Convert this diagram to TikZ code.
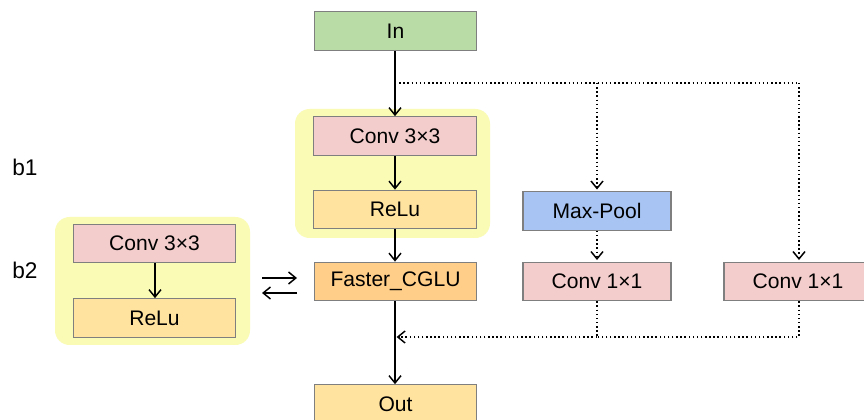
\documentclass[tikz,border=0pt]{standalone}
\usepackage{fontspec}
\setmainfont{Liberation Sans}
\usetikzlibrary{arrows.meta}
\definecolor{cgreen}{HTML}{B9DBA6}
\definecolor{cpink}{HTML}{F3CDCC}
\definecolor{crelu}{HTML}{FFE39E}
\definecolor{cfast}{HTML}{FFCF8A}
\definecolor{cblue}{HTML}{A7C4F2}
\definecolor{cgroup}{HTML}{FAFBB5}
\definecolor{cborder}{HTML}{7F7F7F}
\tikzset{
  box/.style={draw=cborder, line width=0.8pt, inner sep=0pt, font=\fontsize{15.8}{18}\selectfont},
  wbox/.style={box, minimum width=122pt, minimum height=29pt},
  sbox/.style={box, minimum width=111pt, minimum height=29pt},
  grp/.style={fill=cgroup, rounded corners=11pt},
  arr/.style={line width=1.1pt, -{Straight Barb[length=5.5pt,width=9pt,line width=1.1pt]}},
  dotarr/.style={line width=1.1pt, dotted, -{Straight Barb[length=5.5pt,width=9pt,line width=1.1pt,sep]}},
  dotline/.style={line width=1.1pt, dotted},
  lbl/.style={font=\fontsize{17}{20}\selectfont}
}
\begin{document}
\begin{tikzpicture}[x=0.75pt,y=-0.75pt]
\useasboundingbox (0,0) rectangle (864,420);
\clip (0,0) rectangle (864,420);
\fill[white] (0,0) rectangle (864,420);
% groups
\path[grp] (295,109) rectangle (490,238);
\path[grp] (55,217) rectangle (250,345);
% main column
\node[wbox, fill=cgreen] (in) at (395.5,31) {In};
\node[wbox, fill=cpink] (conv1) at (395,136) {Conv 3×3};
\node[wbox, fill=crelu] (relu1) at (395,209.5) {ReLu};
\node[wbox, fill=cfast] (fast) at (395.5,281.5) {Faster\_CGLU};
\node[wbox, fill=crelu] (out) at (395.5,404) {Out};
% branches
\node[sbox, fill=cblue] (pool) at (597,211) {Max-Pool};
\node[sbox, fill=cpink] (c11a) at (597,281.5) {Conv 1×1};
\node[sbox, fill=cpink] (c11b) at (798,281.5) {Conv 1×1};
% left block
\node[wbox, fill=cpink] (conv2) at (154.5,243.5) {Conv 3×3};
\node[wbox, fill=crelu] (relu2) at (154.5,318) {ReLu};
% labels
\node[lbl] (b1) at (25,167) {b1};
\node[lbl] (b2) at (25,270) {b2};
% coordinates
\coordinate (j1) at (395,83);
\coordinate (j2) at (597,83);
\coordinate (j3) at (799,83);
\coordinate (k1) at (395,337);
\coordinate (k2) at (597,337);
\coordinate (k3) at (799,337);
\coordinate (xa1) at (262,278);
\coordinate (xa2) at (297,278);
\coordinate (xb1) at (297,293);
\coordinate (xb2) at (262,293);
% main arrows
\draw[arr] (in.south -| conv1.north) -- (conv1.north);
\draw[arr] (conv1) -- (relu1);
\draw[arr] (relu1) -- (relu1 |- fast.north);
\draw[arr] (fast.south -| k1) -- (out.north -| k1);
\draw[arr] (conv2.south -| 155,0) -- (relu2.north -| 155,0);
% dotted branches
\draw[dotline] (j1) -- (j3);
\draw[dotarr] (j2) -- (pool.north);
\draw[dotarr] (j3) -- (j3 |- c11b.north);
\draw[dotarr] (pool) -- (c11a);
\draw[dotline] (c11a.south) -- (k2);
\draw[dotline] (c11b.south -| k3) -- (k3) -- (k2);
\draw[dotarr] (k2) -- (k1);
% exchange arrows
\draw[arr] (xa1) -- (xa2);
\draw[arr] (xb1) -- (xb2);
\end{tikzpicture}
\end{document}
